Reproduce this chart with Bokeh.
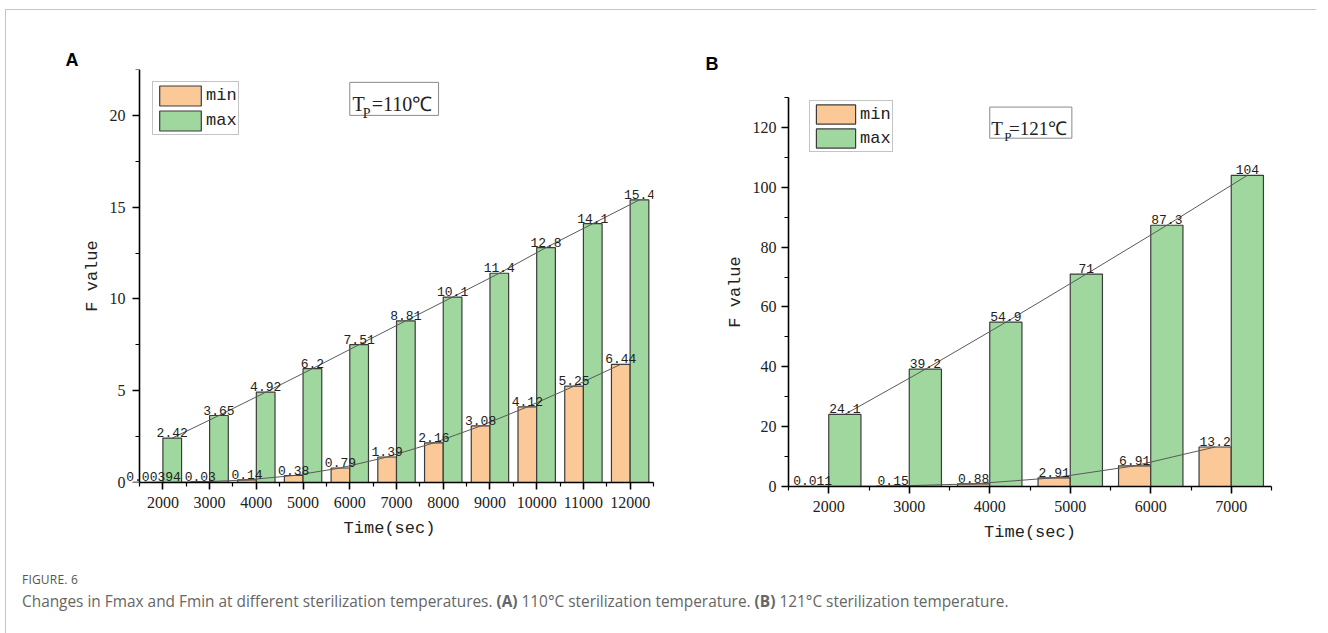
from bokeh.plotting import figure
from bokeh.models import FixedTicker, Legend, LegendItem, Label, Div, LinearAxis
from bokeh.layouts import row, column
from bokeh.embed import file_html
from bokeh.resources import INLINE
from bokeh.core.properties import value

# ---- data: panel A (Tp = 110 C) ----
time_a = [2000, 3000, 4000, 5000, 6000, 7000, 8000, 9000, 10000, 11000, 12000]
fmin_a = [0.00394, 0.03, 0.14, 0.38, 0.79, 1.39, 2.16, 3.08, 4.12, 5.25, 6.44]
fmax_a = [2.42, 3.65, 4.92, 6.2, 7.51, 8.81, 10.1, 11.4, 12.8, 14.1, 15.4]
yticks_a = [0, 5, 10, 15, 20]

# ---- data: panel B (Tp = 121 C) ----
time_b = [2000, 3000, 4000, 5000, 6000, 7000]
fmin_b = [0.011, 0.15, 0.88, 2.91, 6.91, 13.2]
fmax_b = [24.1, 39.2, 54.9, 71, 87.3, 104]
yticks_b = [0, 20, 40, 60, 80, 100, 120]

series_names = ["min", "max"]
caption_head = "FIGURE. 6"
caption_text = ("Changes in Fmax and Fmin at different sterilization temperatures. "
                "<b>(A)</b> 110°C sterilization temperature. "
                "<b>(B)</b> 121°C sterilization temperature.")

MIN_COLOR = "#FBC897"
MAX_COLOR = "#9FD79E"
EDGE = "#3c3c3c"
TREND = "#5a5a5a"
MONO = "Liberation Mono"
SERIF = "Liberation Serif"


def style_axis(ax):
    ax.axis_line_color = "black"
    ax.axis_line_width = 1.6
    ax.major_tick_line_color = "black"
    ax.major_tick_line_width = 1.6
    ax.minor_tick_line_color = "black"
    ax.minor_tick_line_width = 1.2
    ax.major_tick_in = 0
    ax.minor_tick_in = 0
    ax.major_tick_out = 7
    ax.minor_tick_out = 4
    ax.major_label_text_font = SERIF
    ax.major_label_text_font_size = "16px"
    ax.major_label_text_color = "#222"
    ax.axis_label_text_font = MONO
    ax.axis_label_text_font_size = "17px"
    ax.axis_label_text_font_style = "normal"
    ax.axis_label_text_color = "#222"


def panel(times, fmin, fmax, yticks, ymax, yminor, width, height, borders, left_pad,
          legend_loc, legend_glyph, temp, tp_box, tp_pos, tp_size, letter, letter_offset,
          letter_standoff):
    step = times[1] - times[0]
    bw = 0.4 * step
    x0 = times[0] - step / 2
    x1 = times[-1] + step / 2
    left, right, top, bottom = borders
    p = figure(width=width, height=height,
               x_range=(x0 - left_pad, x1),
               y_range=(0, ymax),
               output_backend="svg", toolbar_location=None,
               min_border_left=left, min_border_right=right,
               min_border_top=top, min_border_bottom=bottom)
    p.frame_align = False
    p.xgrid.visible = False
    p.ygrid.visible = False
    p.outline_line_color = None
    p.background_fill_color = "white"

    xmin = [t - bw / 2 for t in times]
    xmax = [t + bw / 2 for t in times]

    rmin = p.vbar(x=xmin, top=fmin, width=bw, bottom=0, fill_color=MIN_COLOR,
                  line_color=EDGE, line_width=1.2)
    rmax = p.vbar(x=xmax, top=fmax, width=bw, bottom=0, fill_color=MAX_COLOR,
                  line_color=EDGE, line_width=1.2)

    # trend lines through the bar tops
    p.line(x=xmin, y=fmin, line_color=TREND, line_width=1)
    p.line(x=xmax, y=fmax, line_color=TREND, line_width=1)

    # value labels above the bars
    for xs, vals in ((xmin, fmin), (xmax, fmax)):
        p.text(x=xs, y=vals, text=[f"{v:g}" for v in vals],
               text_font=value(MONO), text_font_size="13px", text_color="#222",
               text_align="center", text_baseline="bottom", y_offset=-1)

    xticker = FixedTicker(ticks=times, minor_ticks=[t - step / 2 for t in times] + [x1])
    yticker = FixedTicker(ticks=yticks, minor_ticks=[v + yminor for v in yticks])

    p.xaxis.bounds = (x0, x1)
    p.xaxis.ticker = xticker
    p.yaxis.ticker = yticker
    style_axis(p.xaxis[0])
    style_axis(p.yaxis[0])
    p.xaxis.major_label_standoff = 7
    p.xaxis.axis_label = "Time(sec)"
    p.xaxis.axis_label_standoff = 8
    p.yaxis.axis_label = "F value"
    p.yaxis.axis_label_standoff = 5

    if left_pad > 0:
        # frame extends a bit left of the axis line so the first value label is not cut;
        # the outer axis keeps only the tick labels and the title
        ya = p.yaxis[0]
        ya.axis_line_color = None
        ya.major_tick_line_color = None
        ya.minor_tick_line_color = None
        ya.major_tick_out = 0
        ya.minor_tick_out = 0
        ya.major_label_standoff = 0
        # axis line and ticks drawn at the start of the first category slot
        inner = LinearAxis(ticker=yticker, fixed_location=x0, axis_label=None)
        style_axis(inner)
        inner.major_label_text_font_size = "0px"
        inner.major_label_text_alpha = 0
        p.add_layout(inner, "left")
    else:
        p.yaxis.major_label_standoff = 5

    # legend
    gw, gh = legend_glyph
    legend = Legend(items=[LegendItem(label=series_names[0], renderers=[rmin]),
                           LegendItem(label=series_names[1], renderers=[rmax])],
                    location=legend_loc, orientation="vertical",
                    glyph_width=gw, glyph_height=gh, label_height=gh,
                    label_standoff=0, padding=1, spacing=0, margin=0,
                    label_text_font=MONO, label_text_font_size="17px",
                    label_text_color="#222",
                    border_line_color="#8a8a8a", border_line_width=1,
                    background_fill_color="white", background_fill_alpha=1)
    p.add_layout(legend)

    # temperature box
    bx0, bx1, by0, by1 = tp_box
    p.quad(left=[bx0], right=[bx1], bottom=[by0], top=[by1],
           fill_color="white", line_color="#8a8a8a", line_width=1)
    (tx, ty), (px, py), (ex, ey) = tp_pos
    big, small = tp_size
    for txt, x, y, size in (("T", tx, ty, big), ("P", px, py, small),
                            (f"={temp}℃", ex, ey, big)):
        p.add_layout(Label(x=x, y=y, text=txt, text_font=SERIF,
                           text_font_size=f"{size}px", text_color="#222",
                           text_baseline="alphabetic", text_align="left"))

    # panel letter
    p.title.text = letter
    p.title.align = "left"
    p.title.offset = letter_offset
    p.title.standoff = letter_standoff
    p.title.text_font = "Liberation Sans"
    p.title.text_font_style = "bold"
    p.title.text_font_size = "18px"
    p.title.text_color = "black"
    return p


pa = panel(time_a, fmin_a, fmax_a, yticks_a, 22.5, 2.5,
           width=694, height=545, borders=(119, 47, 59, 73), left_pad=300,
           legend_loc=(27, 347), legend_glyph=(52, 25),
           temp=110, tp_box=(6000, 7900, 20.0, 21.8),
           tp_pos=((6060, 20.62), (6280, 20.08), (6470, 20.62)), tp_size=(20, 14),
           letter="A", letter_offset=-60, letter_standoff=0)

pb = panel(time_b, fmin_b, fmax_b, yticks_b, 130, 10,
           width=611, height=545, borders=(88, 40, 87, 69), left_pad=0,
           legend_loc=(21, 334), legend_glyph=(49, 24),
           temp=121, tp_box=(4000, 5020, 116.4, 126.8),
           tp_pos=((4020, 119.6), (4180, 116.8), (4240, 119.6)), tp_size=(19, 13),
           letter="B", letter_offset=-83, letter_standoff=48)

cap = Div(text=(f'<div style="font-family:\'Open Sans\',sans-serif;color:#555;padding-left:11px;">'
                f'<div style="font-size:12px;line-height:14px;margin-top:13px;letter-spacing:0.2px;">{caption_head}</div>'
                f'<div style="font-size:15.4px;line-height:20px;margin-top:5px;color:#666;">{caption_text}</div>'
                f'</div>'),
          width=1300, height=68)

layout = column(row(pa, pb), cap, margin=(9, 0, 0, 5),
                styles={"border-top": "1px solid #c4c4c4", "border-left": "1px solid #c4c4c4"})

open("out.html", "w").write(file_html(layout, INLINE))
